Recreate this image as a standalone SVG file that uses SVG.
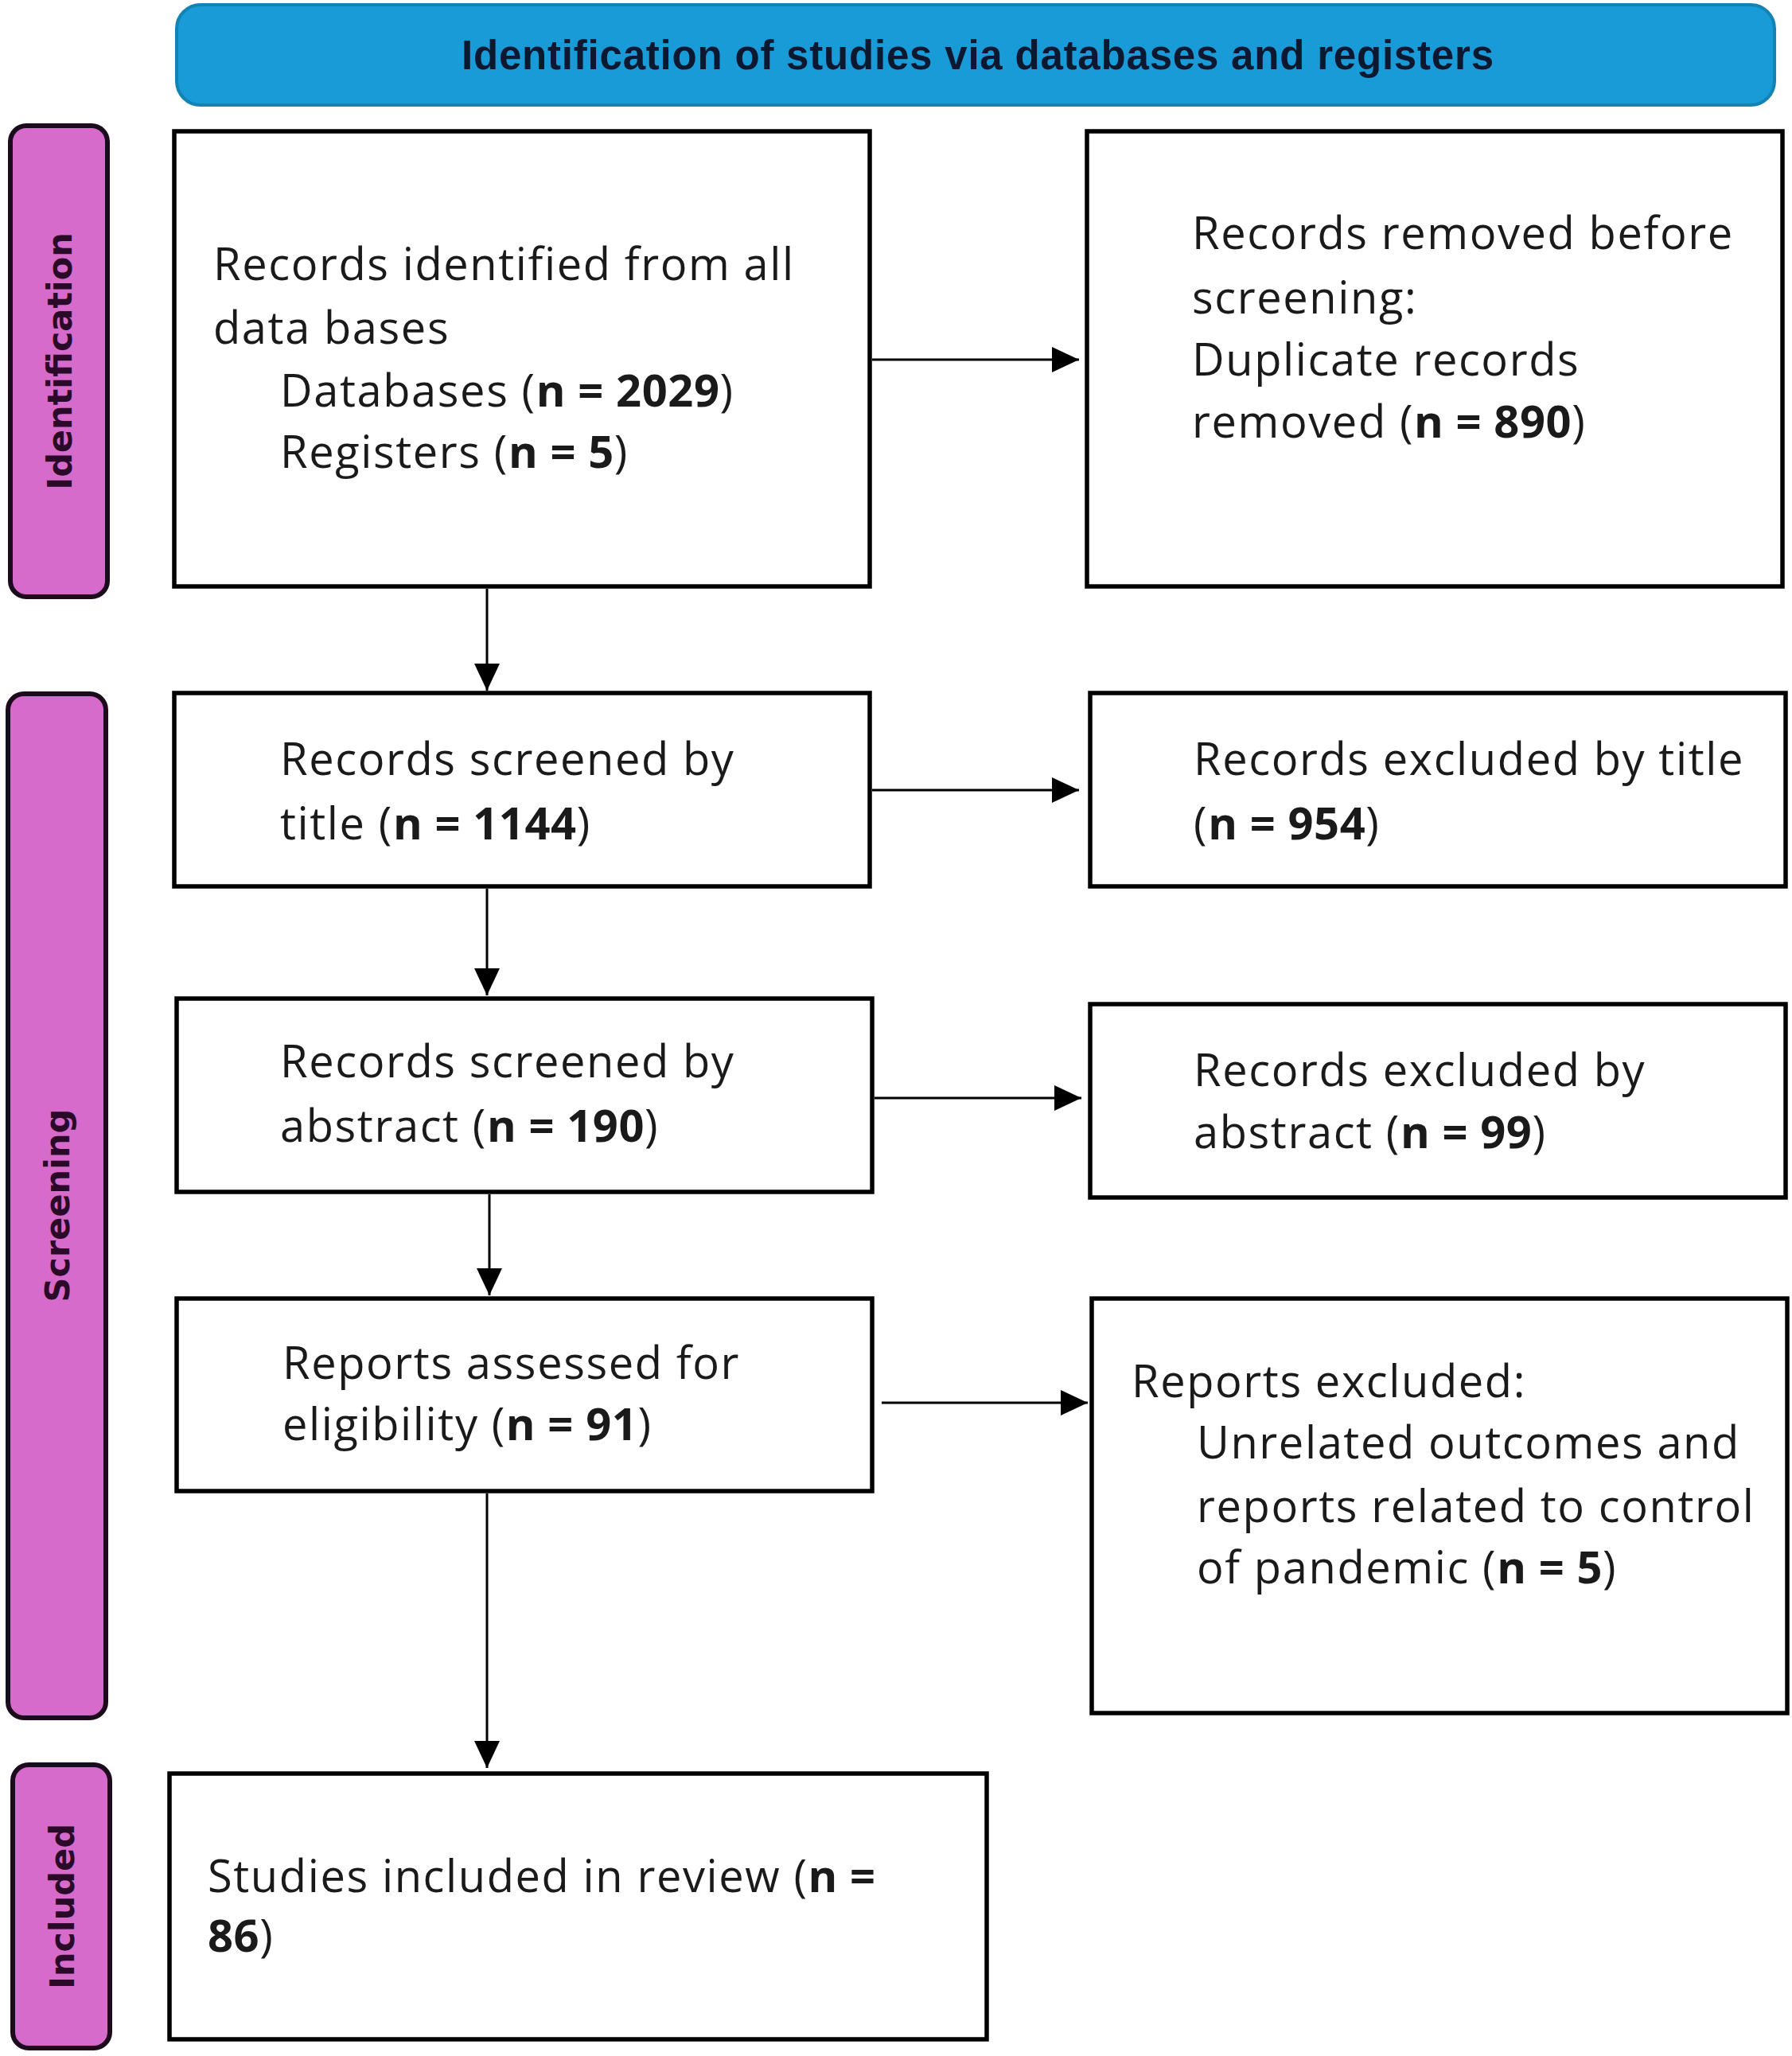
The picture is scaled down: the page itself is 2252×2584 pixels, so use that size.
<svg xmlns="http://www.w3.org/2000/svg" width="2252" height="2584" viewBox="0 0 2252 2584">
<style>
.box{fill:#ffffff;stroke:#000000;stroke-width:5.5}
.side{fill:#d66bcb;stroke:#1c0b1c;stroke-width:6}
.t{font-family:"Open Sans","Liberation Sans",sans-serif;font-size:56px;letter-spacing:1.6px;fill:#1a1a1a}
.b{font-weight:700;letter-spacing:0.6px}
.lbl{font-family:"DejaVu Sans","Liberation Sans",sans-serif;font-weight:700;font-size:43px;fill:#2a0a28;text-anchor:middle}
.hdr{font-family:"Liberation Sans","Open Sans",sans-serif;font-weight:700;font-size:51px;fill:#0c1830}
.c{stroke:#000000;stroke-width:3;fill:none}
</style>
<defs>
<marker id="ah" markerUnits="userSpaceOnUse" markerWidth="36" markerHeight="32" refX="34" refY="16" orient="auto">
<path d="M0,0 L34,16 L0,32 z" fill="#000000"/>
</marker>
</defs>
<rect width="2252" height="2584" fill="#ffffff"/>

<g id="header">
<rect x="222" y="6" width="2008" height="126" rx="30" fill="#189bd7" stroke="#1283b3" stroke-width="4"/>
<text class="hdr" x="580" y="87" textLength="1297" lengthAdjust="spacing">Identification of studies via databases and registers</text>
</g>

<g id="phase-identification">
<rect class="side" x="13" y="158" width="122" height="592" rx="20"/>
<text class="lbl" transform="translate(90,454) rotate(-90)">Identification</text>
</g>
<g id="phase-screening">
<rect class="side" x="10" y="872" width="123" height="1287" rx="20"/>
<text class="lbl" transform="translate(87,1515) rotate(-90)">Screening</text>
</g>
<g id="phase-included">
<rect class="side" x="16" y="2218" width="122" height="356" rx="20"/>
<text class="lbl" transform="translate(93,2396) rotate(-90)">Included</text>
</g>

<g id="records-identified">
<rect class="box" x="219" y="165" width="874" height="572"/>
<text class="t" x="268" y="352">Records identified from all</text>
<text class="t" x="268" y="432">data bases</text>
<text class="t" x="352" y="511">Databases (<tspan class="b">n = 2029</tspan>)</text>
<text class="t" x="352" y="588">Registers (<tspan class="b">n = 5</tspan>)</text>
</g>

<g id="records-removed">
<rect class="box" x="1366" y="165" width="874" height="572"/>
<text class="t" x="1498" y="313">Records removed before</text>
<text class="t" x="1498" y="394">screening:</text>
<text class="t" x="1498" y="472">Duplicate records</text>
<text class="t" x="1498" y="550">removed (<tspan class="b">n = 890</tspan>)</text>
</g>

<g id="screened-title">
<rect class="box" x="219" y="871" width="874" height="243"/>
<text class="t" x="352" y="974">Records screened by</text>
<text class="t" x="352" y="1055">title (<tspan class="b">n = 1144</tspan>)</text>
</g>

<g id="excluded-title">
<rect class="box" x="1370" y="871" width="874" height="243"/>
<text class="t" x="1500" y="974">Records excluded by title</text>
<text class="t" x="1500" y="1055">(<tspan class="b">n = 954</tspan>)</text>
</g>

<g id="screened-abstract">
<rect class="box" x="222" y="1255" width="874" height="243"/>
<text class="t" x="352" y="1354">Records screened by</text>
<text class="t" x="352" y="1435">abstract (<tspan class="b">n = 190</tspan>)</text>
</g>

<g id="excluded-abstract">
<rect class="box" x="1370" y="1262" width="874" height="243"/>
<text class="t" x="1500" y="1365">Records excluded by</text>
<text class="t" x="1500" y="1443">abstract (<tspan class="b">n = 99</tspan>)</text>
</g>

<g id="assessed-eligibility">
<rect class="box" x="222" y="1632" width="874" height="242"/>
<text class="t" x="355" y="1733">Reports assessed for</text>
<text class="t" x="355" y="1810">eligibility (<tspan class="b">n = 91</tspan>)</text>
</g>

<g id="reports-excluded">
<rect class="box" x="1372" y="1632" width="874" height="521"/>
<text class="t" x="1422" y="1756">Reports excluded:</text>
<text class="t" x="1504" y="1833">Unrelated outcomes and</text>
<text class="t" x="1504" y="1913">reports related to control</text>
<text class="t" x="1504" y="1990">of pandemic (<tspan class="b">n = 5</tspan>)</text>
</g>

<g id="included-review">
<rect class="box" x="213" y="2229" width="1027" height="334"/>
<text class="t" x="261" y="2378">Studies included in review (<tspan class="b">n =</tspan></text>
<text class="t" x="261" y="2453"><tspan class="b">86</tspan>)</text>
</g>

<g id="connectors">
<line class="c" x1="1096" y1="452" x2="1356" y2="452" marker-end="url(#ah)"/>
<line class="c" x1="612" y1="740" x2="612" y2="868" marker-end="url(#ah)"/>
<line class="c" x1="1096" y1="993" x2="1356" y2="993" marker-end="url(#ah)"/>
<line class="c" x1="612" y1="1117" x2="612" y2="1251" marker-end="url(#ah)"/>
<line class="c" x1="1099" y1="1380" x2="1359" y2="1380" marker-end="url(#ah)"/>
<line class="c" x1="615" y1="1501" x2="615" y2="1628" marker-end="url(#ah)"/>
<line class="c" x1="1108" y1="1763" x2="1367" y2="1763" marker-end="url(#ah)"/>
<line class="c" x1="612" y1="1877" x2="612" y2="2222" marker-end="url(#ah)"/>
</g>
</svg>
